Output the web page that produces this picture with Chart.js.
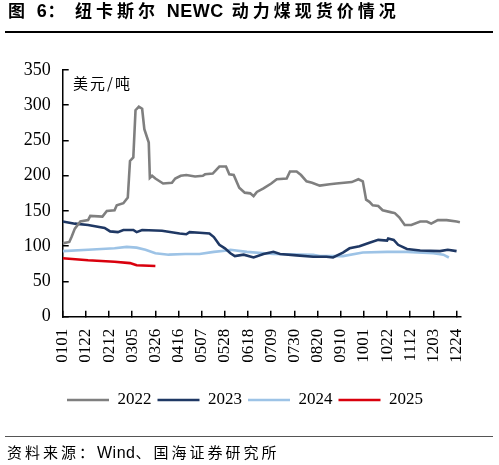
<!DOCTYPE html>
<html>
<head>
<meta charset="utf-8">
<script src="https://cdn.jsdelivr.net/npm/chart.js@4.4.0/dist/chart.umd.min.js"></script>
<style>
  html, body { margin: 0; padding: 0; background: #fff; }
  #wrap { position: relative; width: 499px; height: 465px; overflow: hidden; }
  #c { position: absolute; left: 0; top: 0; }
  .t { position: absolute; top: 0; font-family: "Noto Sans CJK SC", sans-serif; font-weight: bold; font-size: 17px; line-height: 20px; color: #000; letter-spacing: 4px; white-space: nowrap; }
  .t span { letter-spacing: 0.5px; font-family: "Liberation Sans", sans-serif; font-size: 18px; }
  .rule { position: absolute; left: 5px; width: 488px; }
  #unit { position: absolute; left: 73px; top: 73px; font-family: "Noto Sans CJK SC", sans-serif; font-size: 15px; line-height: 20px; color: #000; letter-spacing: 2px; }
  #src { position: absolute; left: 7px; top: 442px; font-family: "Noto Sans CJK SC", sans-serif; font-size: 15px; line-height: 20px; color: #000; letter-spacing: 3px; white-space: nowrap; }
  #src span { letter-spacing: 0.5px; font-family: "Liberation Sans", sans-serif; font-size: 16px; }
</style>
</head>
<body>
<div id="wrap">
  <canvas id="c" width="499" height="465"></canvas>
  <div class="t" style="left:8px">图 <span>6</span>：</div>
  <div class="t" style="left:75px">纽卡斯尔 <span>NEWC</span> 动力煤现货价情况</div>
  <div class="rule" style="top:31px;height:2px;background:#000"></div>
  <div id="unit">美元/吨</div>
  <div class="rule" style="top:436px;height:1px;background:#555"></div>
  <div id="src">资料来源：<span>Wind</span>、国海证券研究所</div>
</div>
<script>
// x 轴：一年中的第几天（0 = 0101）
const tickDays = [0, 21, 42, 63, 84, 105, 126, 147, 168, 189, 210, 231, 252, 273, 294, 315, 336, 357];
const tickLabels = ['0101', '0122', '0212', '0305', '0326', '0416', '0507', '0528', '0618',
    '0709', '0730', '0820', '0910', '1001', '1022', '1112', '1203', '1224'];

const days2022 = [0, 6, 8, 11, 16, 23, 25, 36, 40, 47, 49, 55, 59, 60, 61, 64, 66, 69, 72, 74, 78, 79, 81, 84,
    91, 99, 102, 107, 112, 120, 127, 129, 136, 142, 148, 151, 155, 160, 165, 170, 173, 176, 182, 189,
    194, 203, 206, 212, 216, 221, 226, 233, 242, 248, 262, 268, 272, 275, 278, 281, 286, 290, 298,
    301, 305, 310, 316, 324, 330, 334, 340, 348, 357, 360];
const vals2022 = [104, 106, 113, 125, 135, 137, 143, 142, 150, 151, 158, 161, 169, 195, 221, 226, 293, 298, 295, 266, 247, 197, 200, 196,
    189, 190, 196, 200, 201, 199, 200, 202, 203, 213, 213, 202, 201, 183, 176, 175, 171, 177, 182, 189,
    195, 196, 206, 206, 201, 192, 190, 186, 188, 189, 191, 195, 192, 166, 163, 158, 157, 151, 148,
    147, 141, 130, 130, 135, 135, 132, 137, 137, 135, 134];

const days2023 = [0, 11, 23, 38, 43, 50, 55, 64, 67, 72, 90, 106, 112, 115, 124, 133, 137, 142, 147, 152, 156,
    164, 173, 182, 191, 197, 212, 227, 239, 245, 254, 260, 269, 278, 286, 294, 295, 300, 304, 312,
    324, 342, 349, 357];
const vals2023 = [135, 132, 130, 126, 121, 120, 123, 123, 120, 123, 122, 118, 117, 120, 119, 118, 113, 102, 97, 90, 86,
    88, 84, 89, 92, 89, 87, 85, 85, 84, 91, 97, 100, 105, 109, 108, 111, 109, 102, 96,
    94, 93, 95, 93];

const days2024 = [0, 23, 47, 58, 67, 75, 84, 96, 111, 124, 137, 149, 152, 167, 191, 227, 233, 254, 272, 294, 312, 336, 345, 350];
const vals2024 = [93, 95, 97, 99, 98, 95, 90, 88, 89, 89, 92, 94, 95, 92, 89, 88, 86, 86, 91, 92, 92, 90, 88, 84];

const days2025 = [0, 23, 47, 61, 67, 84];
const vals2025 = [83, 80, 78, 76, 73, 72];

const toPoints = (d, v) => d.map((x, i) => ({ x: x, y: v[i] }));

const serif = '"Liberation Serif", "Times New Roman", serif';

function serie(label, d, v, color) {
    return {
        label: label,
        data: toPoints(d, v),
        borderColor: color,
        backgroundColor: color,
        borderWidth: 2.6,
        pointRadius: 0,
        tension: 0,
        fill: false
    };
}

new Chart(document.getElementById('c'), {
    type: 'line',
    data: {
        datasets: [
            serie('2022', days2022, vals2022, '#7f7f7f'),
            serie('2023', days2023, vals2023, '#1f3864'),
            serie('2024', days2024, vals2024, '#9dc3e6'),
            serie('2025', days2025, vals2025, '#d9000d')
        ]
    },
    options: {
        responsive: false,
        animation: false,
        devicePixelRatio: 1,
        layout: { padding: { top: 70, left: 0, right: 9, bottom: 46.5 } },
        plugins: {
            title: { display: false },
            tooltip: { enabled: false },
            legend: {
                position: 'bottom',
                labels: {
                    usePointStyle: true,
                    pointStyle: 'line',
                    pointStyleWidth: 42,
                    padding: 6,
                    color: '#000',
                    font: { family: serif, size: 17 }
                }
            }
        },
        scales: {
            x: {
                type: 'linear',
                min: 0,
                max: 361,
                afterBuildTicks: s => { s.ticks = tickDays.map(v => ({ value: v })); },
                afterFit: s => { s.height = 68.8; },
                ticks: {
                    autoSkip: false,
                    maxRotation: 90,
                    minRotation: 90,
                    padding: 18,
                    color: '#000',
                    font: { family: serif, size: 17 },
                    callback: v => tickLabels[tickDays.indexOf(v)]
                },
                grid: { drawOnChartArea: false, tickLength: -6, color: '#000', lineWidth: 1.5 },
                border: { display: true, color: '#000', width: 1.5 }
            },
            y: {
                min: 0,
                max: 350,
                afterFit: s => { s.width = 62.7; },
                ticks: {
                    stepSize: 50,
                    padding: 18,
                    color: '#000',
                    font: { family: serif, size: 18 }
                },
                grid: { drawOnChartArea: false, tickLength: -6, color: '#000', lineWidth: 1.5 },
                border: { display: true, color: '#000', width: 1.5 }
            },
            y2: {
                position: 'right',
                display: true,
                afterFit: s => { s.width = 29; },
                ticks: { display: false },
                grid: { display: false },
                border: { display: false }
            }
        }
    }
});
</script>
</body>
</html>
